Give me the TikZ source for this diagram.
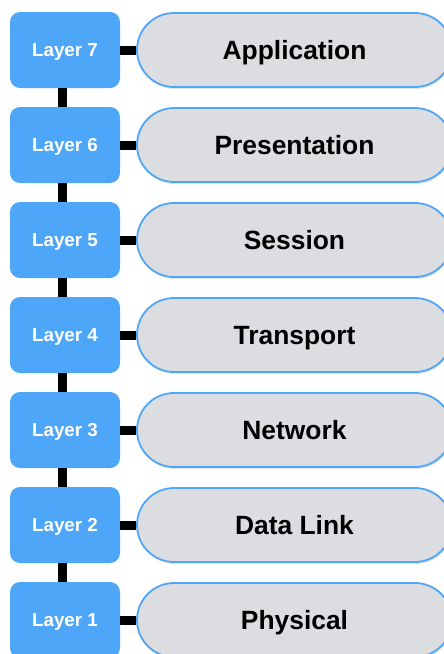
\documentclass[tikz,border=0pt]{standalone}
\usepackage{fontspec}
\setmainfont{Liberation Sans}
\definecolor{lblue}{HTML}{4DA6F7}
\definecolor{pillgray}{HTML}{DCDDE0}
\begin{document}
\begin{tikzpicture}[x=1pt,y=-1pt,
  layerbox/.style={fill=lblue, rounded corners=10pt, minimum width=110pt, minimum height=76pt, inner sep=0pt, text height=13.5pt, text depth=0pt, text=white, font=\bfseries\fontsize{18.8}{22}\selectfont},
  pill/.style={fill=pillgray, draw=lblue, line width=1.8pt, rounded corners=37pt, minimum width=315pt, minimum height=74pt, inner sep=0pt, text height=19pt, text depth=0pt, font=\bfseries\fontsize{26.4}{30}\selectfont},
  pillshadow/.style={fill=black!10, rounded corners=37pt, minimum width=315pt, minimum height=74pt, inner sep=0pt},
  link/.style={line width=9pt}]
\useasboundingbox (0,0) rectangle (444,654);
\foreach \i/\name in {7/Application,6/Presentation,5/Session,4/Transport,3/Network,2/Data Link,1/Physical}{
  \pgfmathsetmacro{\yy}{50+(7-\i)*95}
  \node[layerbox] (L\i) at (65,\yy) {Layer \i};
  \node[pillshadow] (S\i) at (295.5,\yy+2) {};
  \node[pill] (P\i) at (294.5,\yy) {\name};
  \draw[link] (L\i.east) -- (P\i.west);
}
\foreach \a/\b in {7/6,6/5,5/4,4/3,3/2,2/1}{
  \draw[link] ([xshift=-3pt]L\a.south) -- ([xshift=-3pt]L\b.north);
}
\end{tikzpicture}
\end{document}
